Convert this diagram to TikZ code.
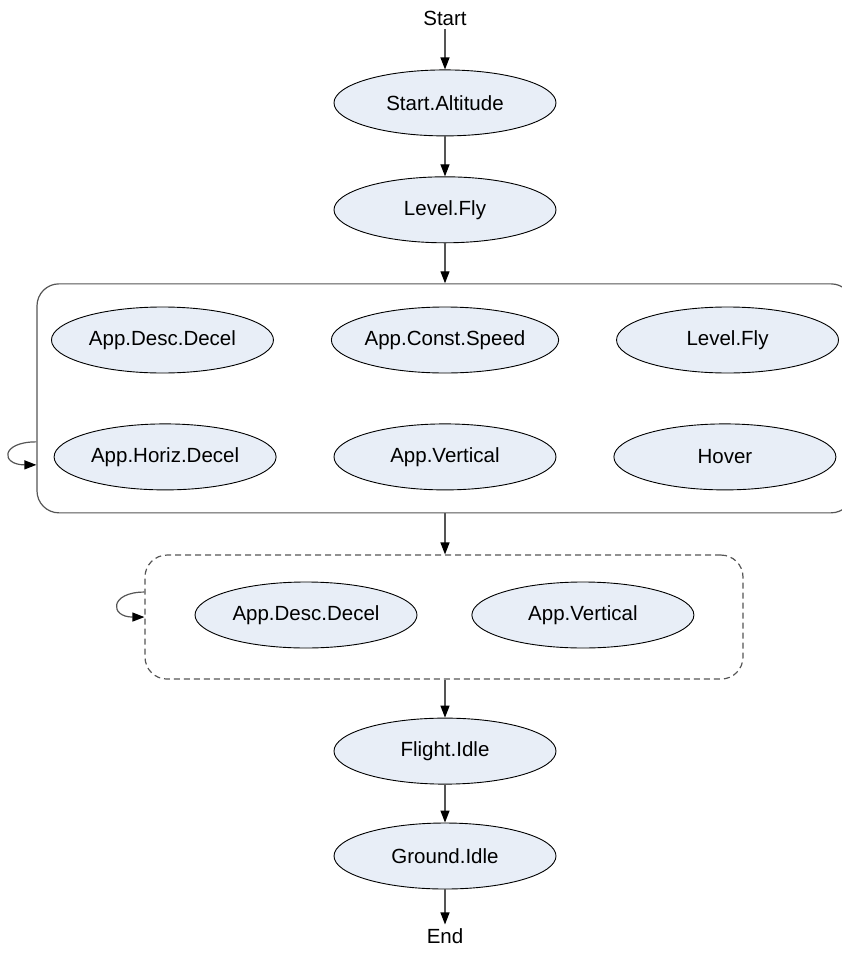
\documentclass[tikz,border=0pt]{standalone}
\usepackage{fontspec}
\setmainfont{Liberation Sans}
\usetikzlibrary{positioning,arrows.meta,shapes.geometric}
\definecolor{statefill}{HTML}{E8EEF7}
\definecolor{edge}{HTML}{555555}

\begin{document}
\begin{tikzpicture}[
    x=1pt, y=-1pt,
    font=\fontsize{20.5}{24}\selectfont,
    node distance=40pt and 57pt,
    state/.style={ellipse, draw=black, line width=0.9pt, fill=statefill, minimum width=222pt, minimum height=66pt, inner sep=0pt},
    lbl/.style={inner sep=3.5pt},
    group/.style={draw=edge, line width=1.2pt, rounded corners=22pt, inner sep=0pt},
    arr/.style={-{Triangle[length=12pt,width=9pt,color=black]}, line width=1.2pt, draw=edge}
]
    \useasboundingbox (0,0) rectangle (841,953);

    % Main chain
    \node[lbl] (start) at (445,18.5) {Start};
    \node[state, below=of start] (alt) {Start.Altitude};
    \node[state, below=of alt] (lvl) {Level.Fly};

    % Approach group
    \node[group, below=of lvl, minimum width=816pt, minimum height=229pt] (grpA) {};
    \node[state] (cspd) at (445,340) {App.Const.Speed};
    \node[state, left=of cspd] (ddec) {App.Desc.Decel};
    \node[state, right=of cspd] (lvlb) {Level.Fly};
    \node[state, below=50pt of cspd] (vert) {App.Vertical};
    \node[state, left=of vert] (hdec) {App.Horiz.Decel};
    \node[state, right=of vert] (hover) {Hover};

    % Optional group
    \node[group, dashed, dash pattern=on 6pt off 4pt, below=41pt of grpA, xshift=-1pt, minimum width=598pt, minimum height=124pt] (grpB) {};
    \node[state] (ddecb) at (306,615) {App.Desc.Decel};
    \node[state, right=54pt of ddecb] (vertb) {App.Vertical};

    % Landing
    \node[state, below=38pt of grpB.south -| lvl] (flt) {Flight.Idle};
    \node[state, below=38pt of flt] (gnd) {Ground.Idle};
    \node[lbl, below=35pt of gnd] (finish) {End};

    % Connections
    \draw[arr] (start) -- (alt);
    \draw[arr] (alt) -- (lvl);
    \draw[arr] (lvl) -- (lvl |- grpA.north);
    \draw[arr] (lvl |- grpA.south) -- (lvl |- grpB.north);
    \draw[arr] (flt |- grpB.south) -- (flt);
    \draw[arr] (flt) -- (gnd);
    \draw[arr] (gnd) -- (finish);

    % Repeat loops
    \draw[arr] ([yshift=-43.5pt]grpA.west) .. controls +(-36,0) and +(-36,0) .. ([yshift=-66.5pt]grpA.west);
    \draw[arr] ([yshift=25pt]grpB.west) .. controls +(-35,0) and +(-35,0) .. (grpB.west);
\end{tikzpicture}
\end{document}
